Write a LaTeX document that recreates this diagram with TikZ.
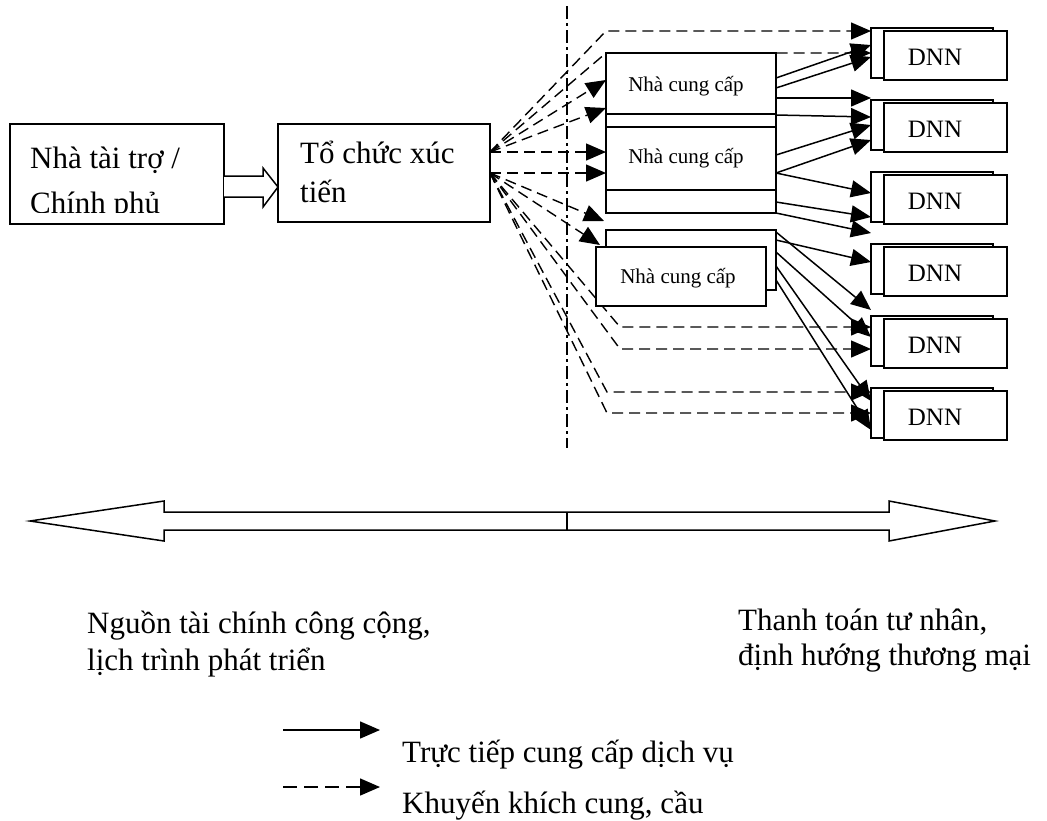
\documentclass[tikz,border=0pt]{standalone}
\usepackage{fontspec}
\setmainfont{Liberation Serif}
\usetikzlibrary{arrows.meta,calc,backgrounds}
\newcommand\szBig{\fontsize{31}{37}\selectfont}
\newcommand\szProv{\fontsize{21}{25}\selectfont}
\newcommand\szDnn{\fontsize{25}{30}\selectfont}
\begin{document}
\begin{tikzpicture}[x=1pt,y=-1pt,
  box/.style={draw,line width=1.6pt,fill=white,inner sep=0pt,outer sep=0pt},
  txt/.style={inner sep=0pt,anchor=base west},
  ctxt/.style={inner sep=0pt,anchor=base},
  sarrow/.style={line width=1.5pt,-{Triangle[length=20pt,width=17pt]}},
  darrow/.style={line width=1.4pt,dash pattern=on 11pt off 6pt,-{Triangle[length=20pt,width=17pt]}},
  legs/.style={line width=1.5pt,-{Triangle[length=20pt,width=17pt]}},
  legd/.style={line width=1.5pt,dash pattern=on 14pt off 7pt,-{Triangle[length=20pt,width=17pt]}},
  divider/.style={line width=1.4pt,dash pattern=on 13pt off 4pt on 3pt off 4pt},
  block/.style={draw,line width=1.5pt,fill=white,line join=miter}]
\useasboundingbox (0,0) rectangle (1047,820);

% donor box
\node[box,minimum width=214pt,minimum height=100pt] (donor) at (117,174) {};
\begin{scope}
  \clip (donor.north west) rectangle ($(donor.south east)+(0,-11.5)$);
  \node[txt,font=\szBig] (donor1) at ($(donor.north west)+(20,44)$) {Nhà tài trợ /};
  \node[txt,font=\szBig] (donor2) at ($(donor.north west)+(20,89)$) {Chính phủ};
\end{scope}

% promotion organisation
\node[box,minimum width=212pt,minimum height=98pt] (promo) at (384,173) {};
\node[txt,font=\szBig] (promo1) at (300,163) {Tổ chức xúc};
\node[txt,font=\szBig] (promo2) at (300,202) {tiến};

% block arrow donor -> promo
\draw[block] (donor.east |- 0,176) -- (263,176) -- (263,168) -- (promo.west |- 0,187) -- (263,207) -- (263,197) -- (donor.east |- 0,197);

\coordinate (o1) at ($(promo.north east)+(0,28)$);
\coordinate (o2) at ($(promo.north east)+(0,49)$);

% divider
\coordinate (vtop) at (567,6);
\coordinate (vbot) at (567,448);
\draw[divider] (vtop) -- (vbot);

% providers
\node[box,minimum width=170pt,minimum height=99pt] (pBb) at (691,163.5) {};
\node[box,minimum width=170pt,minimum height=61pt] (pA) at (691,83.5) {};
\node[box,minimum width=170pt,minimum height=63pt] (pB) at (691,158.5) {};
\node[box,minimum width=170pt,minimum height=60pt] (pCb) at (691,260) {};
\node[box,minimum width=170pt,minimum height=59pt] (pC) at (681,276.5) {};
\node[ctxt,font=\szProv] (pAt) at (686,91) {Nhà cung cấp};
\node[ctxt,font=\szProv] (pBt) at (686,163) {Nhà cung cấp};
\node[ctxt,font=\szProv] (pCt) at (678,283) {Nhà cung cấp};

% DNN boxes
\foreach \i in {1,...,6}{
  \pgfmathsetmacro\yb{53+72*(\i-1)}
  \pgfmathsetmacro\yf{55.5+72*(\i-1)}
  \pgfmathsetmacro\yt{65+72*(\i-1)}
  \node[box,minimum width=122pt,minimum height=50pt] (d\i) at (932,\yb) {};
  \node[box,minimum width=123pt,minimum height=49pt] (f\i) at (945.5,\yf) {};
  \node[ctxt,font=\szDnn] (t\i) at (935,\yt) {DNN};
}

\begin{pgfonlayer}{background}
% dashed connectors (promotion)
\draw[darrow] (o1) -- ($(pA.north west)+(0,-22)$) -- ($(d1.north west)+(0,3)$);
\draw[darrow] (o1) -- (pA.north west) -- ($(d1.north west)+(0,25)$);
\draw[darrow] (o1) -- ($(pA.north west)+(0,27)$);
\draw[darrow] (o1) -- ($(pA.north west)+(0,55)$);
\draw[darrow] (o1) -- (o1 -| pB.west);
\draw[darrow] (o2) -- (o2 -| pB.west);
\draw[darrow] (o2) -- ($(pBb.south west)+(-2,8)$);
\draw[darrow] (o2) -- ($(pC.north west)+(4,-2)$);
\draw[darrow] (o2) -- ($(pC.south west)+(24,21)$) -- ($(d5.north west)+(0,11)$);
\draw[darrow] (o2) -- ($(pC.south west)+(24,43)$) -- ($(d5.north west)+(0,33)$);
\draw[darrow] (o2) -- ($(pC.south west)+(11,86)$) -- ($(d6.north west)+(0,4)$);
\draw[darrow] (o2) -- ($(pC.south west)+(11,107)$) -- ($(d6.north west)+(0,25)$);
% solid connectors (direct services)
\draw[sarrow] ($(pA.north east)+(0,25)$) -- ($(d1.north west)+(0,17)$);
\draw[sarrow] ($(pA.north east)+(0,35)$) -- ($(d1.north west)+(0,29)$);
\draw[sarrow] ($(pA.north east)+(0,45)$) -- ($(d2.north west)+(0,-2)$);
\draw[sarrow] ($(pBb.north east)+(0,1)$) -- ($(d2.north west)+(0,17)$);
\draw[sarrow] ($(pB.north east)+(0,28)$) -- ($(d2.north west)+(0,25)$);
\draw[sarrow] ($(pB.north east)+(0,46)$) -- ($(d2.north west)+(0,40)$);
\draw[sarrow] ($(pB.north east)+(0,46)$) -- ($(d3.north west)+(0,21)$);
\draw[sarrow] ($(pBb.south east)+(0,-11)$) -- ($(d3.north west)+(0,45)$);
\draw[sarrow] (pBb.south east) -- ($(d3.north west)+(0,61)$);
\draw[sarrow] ($(pCb.north east)+(0,10)$) -- ($(d4.north west)+(0,18)$);
\draw[sarrow] ($(pCb.north east)+(0,2)$) -- ($(d4.north west)+(0,66)$);
\draw[sarrow] ($(pCb.north east)+(0,22)$) -- ($(d5.north west)+(0,21)$);
\draw[sarrow] ($(pCb.north east)+(0,36)$) -- ($(d6.north west)+(0,13)$);
\draw[sarrow] ($(pCb.north east)+(0,50)$) -- ($(d6.north west)+(0,42)$);
\end{pgfonlayer}

% double block arrow
\coordinate (lt) at (30,521);
\coordinate (rt) at (995,521);
\draw[block] (lt) -- (164,501) -- (164,512) -- (889,512) -- (889,501) -- (rt) -- (889,541) -- (889,530) -- (164,530) -- (164,541) -- cycle;
\coordinate (mt) at (567,512);
\coordinate (mb) at (567,530);
\draw[line width=1.2pt] (mt) -- (mb);

% bottom texts
\node[txt,font=\szBig] (pub1) at (87,633) {Nguồn tài chính công cộng,};
\begin{scope}
  \clip (60,640) rectangle (420,678);
  \node[txt,font=\szBig] (pub2) at (87,670) {lịch trình phát triển};
\end{scope}
\node[txt,font=\szBig] (priv1) at (738,630) {Thanh toán tư nhân,};
\node[txt,font=\szBig] (priv2) at (738,665) {định hướng thương mại};

% legend
\coordinate (ls1) at (283,730);
\coordinate (le1) at (380,730);
\coordinate (ls2) at (283,787);
\coordinate (le2) at (380,787);
\draw[legs] (ls1) -- (le1);
\draw[legd] (ls2) -- (le2);
\node[txt,font=\szBig] (leg1) at (402,762) {Trực tiếp cung cấp dịch vụ};
\node[txt,font=\szBig] (leg2) at (402,813) {Khuyến khích cung, cầu};
\end{tikzpicture}
\end{document}
